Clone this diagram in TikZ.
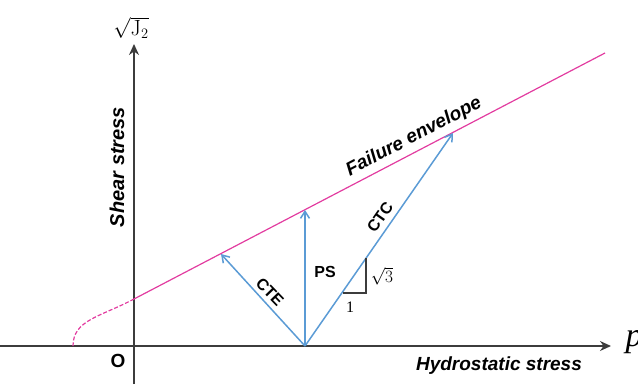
\documentclass[tikz,border=0pt]{standalone}
\usepackage{amsmath}
\usepackage{fontspec}
\setsansfont{Liberation Sans}
\newfontfamily\serifit{Liberation Serif}
\usetikzlibrary{arrows.meta,positioning,calc}
\definecolor{axisgray}{HTML}{3C3C3C}
\definecolor{envpink}{HTML}{E23CA0}
\definecolor{pathblue}{HTML}{5B9BD5}

\begin{document}
\begin{tikzpicture}[
  x=1pt, y=-1pt,
  font=\sffamily,
  axisline/.style={draw=axisgray, line width=1.6pt, -{Stealth[length=11pt,width=10pt]}},
  envline/.style={draw=envpink, line width=1.2pt},
  loadpath/.style={draw=pathblue, line width=1.5pt, -{Straight Barb[length=7pt,width=9pt,line width=1.5pt]}},
  axislabel/.style={font=\fontsize{19}{21}\selectfont\sffamily\bfseries\itshape, inner sep=0pt},
  pathlabel/.style={font=\fontsize{16}{18}\selectfont\sffamily\bfseries, inner sep=0pt}
]
  \useasboundingbox (0,0) rectangle (638,384);

  % Axes
  \coordinate (org) at (134,346);
  \coordinate (xstart) at (0,346);
  \coordinate (xend) at (611,346);
  \coordinate (ystart) at (134,384);
  \coordinate (yend) at (134,44);
  \draw[axisline] (xstart) -- (xend);
  \draw[axisline] (ystart) -- (yend);

  \node[inner sep=0pt] (sqj) at (131,28) {\fontsize{22}{24}\selectfont$\sqrt{\mathrm{J}_2}$};
  \node[inner sep=0pt, font=\fontsize{34}{36}\selectfont\serifit\itshape] (pp) at (634,342) {p};
  \node[inner sep=0pt, font=\fontsize{19}{21}\selectfont\sffamily\bfseries] (olab) at (118,361) {O};
  \node[axislabel, rotate=90, font=\fontsize{20}{22}\selectfont\sffamily\bfseries\itshape] (shear) at (117,167) {Shear stress};
  \node[axislabel] (hydro) at (499,366) {Hydrostatic stress};

  % Failure envelope and cap
  \coordinate (envlow) at (134,299);
  \coordinate (envhigh) at (605,53);
  \coordinate (capend) at (73,346);
  \draw[envline] (envlow) -- (envhigh);
  \draw[envline, dash pattern=on 4pt off 2pt] (envlow) .. controls (100,317) and (73,320) .. (capend);
  \node[axislabel, rotate=27.6] (envlab) at (414,137) {Failure envelope};

  % Stress paths
  \coordinate (base) at (305,346);
  \coordinate (ctetip) at (221,254);
  \coordinate (pstip) at (305,210);
  \coordinate (ctctip) at (453,133);
  \draw[loadpath] (base) -- (ctetip);
  \draw[loadpath] (base) -- (pstip);
  \draw[loadpath] (base) -- (ctctip);
  \node[pathlabel, rotate=-46] (ctelab) at (270,292) {CTE};
  \node[pathlabel] (pslab) at (325,272) {PS};
  \node[pathlabel, rotate=55] (ctclab) at (380,217) {CTC};

  % Slope triangle
  \coordinate (trileft) at (343,293);
  \coordinate (tricorner) at (366,293);
  \coordinate (tritop) at (366,258);
  \draw[axisgray, line width=1.2pt] (trileft) -- (tricorner) -- (tritop);
  \node[inner sep=0pt] (rootlab) at (382,276) {\fontsize{16}{18}\selectfont$\sqrt{3}$};
  \node[inner sep=0pt, font=\fontsize{16}{18}\selectfont\serifit] (onelab) at (350,307) {1};
\end{tikzpicture}
\end{document}
